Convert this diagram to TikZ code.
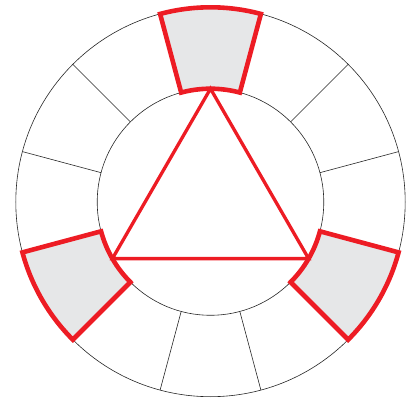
\documentclass[tikz,border=0pt]{standalone}
\definecolor{wheelred}{HTML}{ED1C24}
\definecolor{segfill}{HTML}{E6E7E8}
\begin{document}
\begin{tikzpicture}[x=1bp,y=1bp,
  thinline/.style={draw=black!85, line width=0.6bp},
  hiseg/.style={draw=wheelred, fill=segfill, line width=4.6bp, line join=miter},
  tri/.style={draw=wheelred, line width=3.3bp, line join=miter}]
\useasboundingbox (0,0) rectangle (416,399);
\def\Ro{194.7}
\def\Ri{113.3}
\begin{scope}[shift={(210.5,197)}]
  \coordinate (O) at (0,0);
  % wheel outline
  \draw[thinline] (O) circle[radius=\Ro];
  \draw[thinline] (O) circle[radius=\Ri];
  \foreach \a in {15,45,...,345}
    \draw[thinline] (\a:\Ri) -- (\a:\Ro);
  % highlighted segments
  \foreach \a in {75,195,315}
    \path[hiseg] (\a:\Ri) -- (\a:\Ro)
      arc[start angle=\a, end angle=\a+30, radius=\Ro]
      -- (\a+30:\Ri)
      arc[start angle=\a+30, end angle=\a, radius=\Ri] -- cycle;
  % triangle
  \coordinate (T1) at (90:\Ri);
  \coordinate (T2) at (210:\Ri);
  \coordinate (T3) at (330:\Ri);
  \draw[tri] (T1) -- (T2) -- (T3) -- cycle;
\end{scope}
\end{tikzpicture}
\end{document}
